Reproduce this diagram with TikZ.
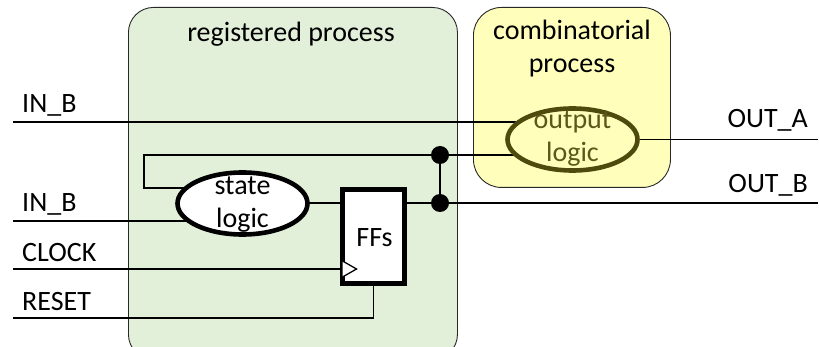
\documentclass[tikz,border=0pt]{standalone}
\usepackage{fontspec}
\setmainfont{Carlito}
\usetikzlibrary{shapes.geometric,calc}
\pgfdeclarelayer{boxes}
\pgfdeclarelayer{wires}
\pgfsetlayers{boxes,wires,main}

\definecolor{regfill}{RGB}{226,239,217}
\definecolor{combfill}{RGB}{255,255,187}
\definecolor{olive}{RGB}{78,74,14}
\definecolor{olivetext}{RGB}{92,88,28}
\definecolor{boxline}{RGB}{40,40,40}

\tikzset{
  procbox/.style={draw=boxline, line width=0.9pt, rectangle, inner sep=0pt},
  wire/.style={line width=1.6pt, black},
  txt/.style={inner sep=0pt, align=center, anchor=base},
  sig/.style={inner sep=0pt, anchor=base west},
  sigr/.style={inner sep=0pt, anchor=base east},
  logicblob/.style={ellipse, line width=4.6pt, inner sep=0pt,
    minimum width=130pt, minimum height=62pt},
  ffbox/.style={rectangle, draw, fill=white, line width=5pt, inner sep=0pt,
    minimum width=62pt, minimum height=94pt},
  joint/.style={circle, fill=black, inner sep=0pt, minimum size=18pt},
}

\begin{document}
\begin{tikzpicture}[x=1pt, y=-1pt, font=\fontsize{28}{33}\selectfont]
\useasboundingbox (0,0) rectangle (819,347);
\clip (0,0) rectangle (819,347);

% process regions
\begin{pgfonlayer}{boxes}
  \node[procbox, fill=regfill, rounded corners=25pt, anchor=north west,
        minimum width=329pt, minimum height=352pt] (reg) at (128,7) {};
  \node[procbox, fill=combfill, rounded corners=28pt, anchor=north west,
        minimum width=197pt, minimum height=180pt] (comb) at (473,7) {};
\end{pgfonlayer}

% titles (base anchor = baseline of the last line)
\node[txt] (regtitle) at (291,42) {registered process};
\node[txt] (combtitle) at (572,73) {combinatorial\\process};

% logic blocks
\node[logicblob, draw=black, fill=white] (sl) at (242.5,203.5) {};
\node[txt] (sltext) at (242.5,228) {state\\logic};
\node[logicblob, draw=olive, fill=combfill] (ol) at (572.5,139.5) {};
\node[txt, text=olivetext] (oltext) at (572.5,162) {output\\logic};
\node[ffbox] (ff) at (373.5,236.5) {};
\node[inner sep=0pt, anchor=base] (fftext) at (374.5,247) {FFs};

% junction dots
\node[joint] (ja) at (440,155) {};
\node[joint] (jb) at (440,203) {};

% port ends
\coordinate (inb1) at (13,122);
\coordinate (inb2) at (13,221);
\coordinate (clk) at (13,269);
\coordinate (rst) at (13,318);
\coordinate (outa) at (818,139.5);
\coordinate (outb) at (818,203);
\coordinate (fbl) at (144,155);

% port labels
\node[sig] (linb1) at (22,113) {IN\_B};
\node[sig] (linb2) at (22,212) {IN\_B};
\node[sig] (lclk) at (22,262) {CLOCK};
\node[sig] (lrst) at (22,310) {RESET};
\node[sigr] (louta) at (808,128) {OUT\_A};
\node[sigr] (loutb) at (808,193) {OUT\_B};

% wiring (kept under the blocks so each wire stops at a block outline)
\begin{pgfonlayer}{wires}
  \draw[wire] (inb1) -- (inb1 -| ol.center);
  \draw[wire] (inb2) -- (inb2 -| sl.center);
  \draw[wire] (jb.center -| sl.center) -- (jb.center -| ff.center);
  \draw[wire] (outb -| ff.center) -- (outb);
  \draw[wire] (ja.center) -- (ja.center -| ol.center);
  \draw[wire] (ja.center) -- (fbl) -- ($(fbl)+(0,33)$) -- ($(fbl -| sl.center)+(0,33)$);
  \draw[wire] (ja.center) -- (jb.center);
  \draw[wire] (outa) -- (outa -| ol.center);
  \draw[wire] (clk) -- (clk -| ff.center);
  \draw[wire] (rst) -- (rst -| ff.south) -- (ff.center);
\end{pgfonlayer}

% clock input marker
\coordinate (clkin) at ($(clk -| ff.west)+(2.5,0)$);
\draw[line width=1.3pt, fill=white] ($(clkin)+(0,-8)$) -- ($(clkin)+(14,0)$) -- ($(clkin)+(0,8)$);
\end{tikzpicture}
\end{document}
